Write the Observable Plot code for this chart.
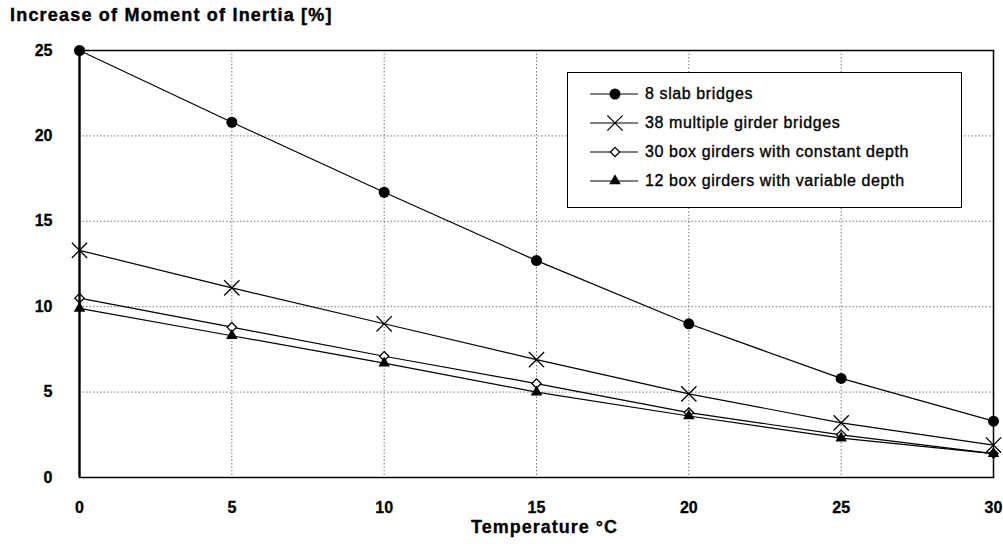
<!DOCTYPE html>
<html>
<head>
<meta charset="utf-8">
<script src="https://cdn.jsdelivr.net/npm/d3@7"></script>
<script src="https://cdn.jsdelivr.net/npm/@observablehq/plot@0.6"></script>
<style>
  html, body { margin: 0; padding: 0; background: #fff; }
  #wrap { position: relative; width: 1003px; height: 544px; font-family: "Liberation Sans", Arial, sans-serif; }
  #title { position: absolute; left: 10px; top: 6px; font-size: 18px; line-height: 1; font-weight: bold; letter-spacing: 1.2px; color: #000; -webkit-text-stroke: 0.4px #000; }
  #legend { position: absolute; left: 567px; top: 72px; width: 393px; height: 134px; border: 1.5px solid #000; background: #fff; }
  .entry { position: absolute; left: 0; height: 20px; display: flex; align-items: center; }
  .entry svg { display: block; }
  .entry span { font-size: 16px; letter-spacing: 0.6px; margin-left: 6px; color: #000; -webkit-text-stroke: 0.35px #000; }
</style>
</head>
<body>
<div id="wrap">
  <div id="chart"></div>
  <div id="title">Increase of Moment of Inertia [%]</div>
  <div id="legend"></div>
</div>
<script>
const temps = [0, 5, 10, 15, 20, 25, 30];
const slab = [25.0, 20.8, 16.7, 12.7, 9.0, 5.8, 3.3];
const multi = [13.3, 11.1, 9.0, 6.9, 4.9, 3.2, 1.9];
const boxConst = [10.5, 8.8, 7.1, 5.5, 3.8, 2.5, 1.4];
const boxVar = [9.9, 8.3, 6.7, 5.0, 3.6, 2.3, 1.4];
const seriesNames = ["8 slab bridges", "38 multiple girder bridges", "30 box girders with constant depth", "12 box girders with variable depth"];
const xTicks = [0, 5, 10, 15, 20, 25, 30];
const yTicks = [0, 5, 10, 15, 20, 25];
const xLabel = "Temperature °C";

const seriesValues = [slab, multi, boxConst, boxVar];
const styles = [
  {symbol: "circle", r: 5.5, fill: "#000", stroke: "none"},
  {symbol: "times", r: 7, fill: "none", stroke: "#000"},
  {symbol: "diamond2", r: 4.2, fill: "#fff", stroke: "#000"},
  {symbol: "triangle", r: 4.3, fill: "#000", stroke: "none"}
];
const rows = seriesValues.map((vals, i) => temps.map((t, j) => ({series: seriesNames[i], t, v: vals[j], i})));

const font = '"Liberation Sans", Arial, sans-serif';
const marks = [
  Plot.gridX(xTicks, {stroke: "#555", strokeOpacity: 0.8, strokeDasharray: "1.5,2"}),
  Plot.gridY(yTicks, {stroke: "#555", strokeOpacity: 0.8, strokeDasharray: "1.5,2"}),
  Plot.text(xTicks, {x: d => d, frameAnchor: "bottom", lineAnchor: "top", dy: 24, text: d => String(d), fontSize: 16, fontWeight: "bold", fill: "#000", stroke: "#000", strokeWidth: 0.3}),
  Plot.text(yTicks, {y: d => d, frameAnchor: "left", textAnchor: "end", dx: -27, text: d => String(d), fontSize: 16, fontWeight: "bold", fill: "#000", stroke: "#000", strokeWidth: 0.3}),
];
rows.forEach((data, i) => {
  marks.push(Plot.line(data, {x: "t", y: "v", stroke: "#000", strokeWidth: 1.2}));
});
rows.forEach((data, i) => {
  const s = styles[i];
  marks.push(Plot.dot(data, {x: "t", y: "v", symbol: () => s.symbol, r: s.r, fill: s.fill, stroke: s.stroke, strokeWidth: 1.3, clip: false}));
});
marks.push(Plot.frame({stroke: "#000", strokeWidth: 1.5}));
marks.push(Plot.ruleX([0], {stroke: "#000", strokeWidth: 2.2}));
marks.push(Plot.text([xLabel], {frameAnchor: "bottom", dy: 55, dx: 8, text: d => d, fontSize: 18, fontWeight: "bold", fill: "#000", stroke: "#000", strokeWidth: 0.3}));

const chart = Plot.plot({
  width: 1003,
  height: 544,
  marginLeft: 79,
  marginRight: 10,
  marginTop: 50,
  marginBottom: 67,
  style: {fontFamily: font, background: "#fff", color: "#000", overflow: "visible"},
  x: {domain: [0, 30], axis: null},
  y: {domain: [0, 25], axis: null},
  symbol: {type: "identity"},
  marks
});
document.getElementById("chart").appendChild(chart);
d3.select(chart).selectAll("text").filter(function() { return this.textContent === xLabel; }).attr("letter-spacing", "1px");

// legend
const legend = d3.select("#legend");
const tops = [22, 51, 80, 109];
seriesNames.forEach((name, i) => {
  const s = styles[i];
  const e = legend.append("div").attr("class", "entry").style("top", (tops[i] - 10 - 1.5) + "px").style("left", "21px");
  const sv = e.append("svg").attr("width", 50).attr("height", 20);
  sv.append("line").attr("x1", 1).attr("x2", 49).attr("y1", 10).attr("y2", 10).attr("stroke", "#000").attr("stroke-width", 1.2);
  const sym = {circle: d3.symbolCircle, times: d3.symbolTimes, diamond2: d3.symbolDiamond2, triangle: d3.symbolTriangle}[s.symbol];
  sv.append("path").attr("transform", "translate(26,10)").attr("d", d3.symbol(sym, Math.PI * s.r * s.r)())
    .attr("fill", s.fill).attr("stroke", s.stroke).attr("stroke-width", 1.3);
  e.append("span").text(name);
});
</script>
</body>
</html>
